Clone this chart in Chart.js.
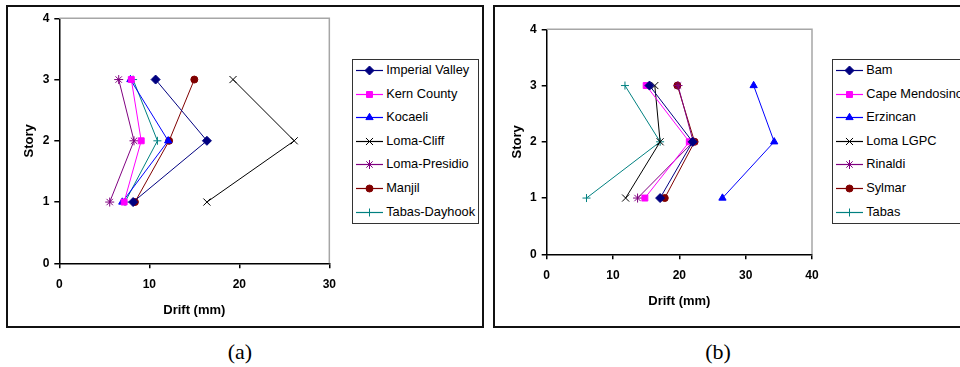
<!DOCTYPE html>
<html>
<head>
<meta charset="utf-8">
<script src="https://cdn.jsdelivr.net/npm/chart.js@4.4.1/dist/chart.umd.min.js"></script>
<style>
  body { margin: 0; width: 960px; height: 367px; background: #fff; position: relative; overflow: hidden;
         font-family: "Liberation Sans", Arial, sans-serif; }
  .panel { position: absolute; box-sizing: border-box; border: 2px solid #111; }
  .plot { position: absolute; }
  .legend { position: absolute; box-sizing: border-box; border: 1.5px solid #333; background: #fff; }
  .legend .row { position: absolute; left: 0; height: 20px; line-height: 20px; font-size: 12.8px; white-space: nowrap; color: #000; }
  .legend canvas { position: absolute; left: 3.5px; top: 0; }
  .legend span { position: absolute; left: 33.5px; top: 0; }
  .caption { position: absolute; width: 60px; margin-left: -30px; text-align: center;
             font-family: "Liberation Serif", "Times New Roman", serif; font-size: 22px; line-height: 22px; }
</style>
</head>
<body>
<div class="panel" style="left:6px; top:5px; width:478px; height:323px;"></div>
<div class="panel" style="left:493px; top:5px; width:490px; height:323px;"></div>

<canvas id="chartA" class="plot" width="345" height="330" style="left:0px; top:0px;"></canvas>
<canvas id="chartB" class="plot" width="350" height="330" style="left:480px; top:0px;"></canvas>

<div id="legendA" class="legend" style="left:351.7px; top:59.3px; width:127.5px; height:165px;"></div>
<div id="legendB" class="legend" style="left:831.7px; top:59.3px; width:160px; height:165px;"></div>

<div class="caption" style="left:240px; top:341px;">(a)</div>
<div class="caption" style="left:718px; top:341px;">(b)</div>

<script>
// ------------------------------------
// Data (drift in mm at stories 1, 2, 3)
// ------------------------------------
const stories = [1, 2, 3];
const storyTicks = [0, 1, 2, 3, 4];
const driftTicksA = [0, 10, 20, 30];
const driftTicksB = [0, 10, 20, 30, 40];

const namesA = ['Imperial Valley', 'Kern County', 'Kocaeli', 'Loma-Cliff', 'Loma-Presidio', 'Manjil', 'Tabas-Dayhook'];
const imperialValley = [8.2, 16.4, 10.7];
const kernCounty = [7.2, 9.1, 8.0];
const kocaeli = [7.0, 12.1, 7.9];
const lomaCliff = [16.4, 26.1, 19.3];
const lomaPresidio = [5.6, 8.3, 6.6];
const manjil = [8.4, 12.2, 15.0];
const tabasDayhook = [7.3, 10.9, 8.2];

const namesB = ['Bam', 'Cape Mendosino', 'Erzincan', 'Loma LGPC', 'Rinaldi', 'Sylmar', 'Tabas'];
const bam = [17.1, 22.0, 15.5];
const capeMendosino = [14.8, 21.5, 15.0];
const erzincan = [26.5, 34.3, 31.2];
const lomaLGPC = [11.9, 17.1, 16.3];
const rinaldi = [13.7, 22.1, 19.8];
const sylmar = [17.8, 22.3, 19.7];
const tabas = [6.0, 17.1, 11.8];

// same marker/colour order in both panels
const seriesStyles = [
    { color: '#000080', point: 'rectRot', radius: 4.5 },
    { color: '#ff00ff', point: 'rect', radius: 4.2 },
    { color: '#0000ff', point: 'triangle', radius: 4.2 },
    { color: '#000000', point: 'crossRot', radius: 5 },
    { color: '#800080', point: 'star', radius: 4.5 },
    { color: '#800000', point: 'circle', radius: 3.5 },
    { color: '#008080', point: 'cross', radius: 4 }
];

const fontFamily = '"Liberation Sans", Arial, sans-serif';
const yAxisW = 49.3;
const xAxisH = 55;

// gray frame on top/right of plot area like Excel
const plotFrame = {
    id: 'plotFrame',
    beforeDatasetsDraw(chart) {
        const { ctx, chartArea: a } = chart;
        ctx.save();
        ctx.strokeStyle = '#a6a6a6';
        ctx.lineWidth = 1.5;
        ctx.beginPath();
        ctx.moveTo(a.left, a.top);
        ctx.lineTo(a.right, a.top);
        ctx.lineTo(a.right, a.bottom);
        ctx.stroke();
        ctx.restore();
    }
};

function buildChart(canvasId, names, series, xTicks, area) {
    const canvas = document.getElementById(canvasId);
    const W = canvas.width, H = canvas.height;

    const datasets = series.map((vals, i) => {
        const st = seriesStyles[i];
        return {
            label: names[i],
            data: vals.map((v, k) => ({ x: v, y: stories[k] })),
            showLine: true,
            borderColor: st.color,
            backgroundColor: st.color,
            borderWidth: 1,
            pointStyle: st.point,
            pointRadius: st.radius,
            pointBorderWidth: 1,
            pointBackgroundColor: st.color,
            pointBorderColor: st.color
        };
    });

    return new Chart(canvas, {
        type: 'scatter',
        data: { datasets },
        plugins: [plotFrame],
        options: {
            responsive: false,
            animation: false,
            events: [],
            layout: {
                padding: {
                    left: area.left - yAxisW,
                    top: area.top,
                    right: W - area.right,
                    bottom: H - area.bottom - xAxisH
                }
            },
            plugins: { legend: { display: false }, tooltip: { enabled: false } },
            scales: {
                x: {
                    type: 'linear',
                    min: xTicks[0],
                    max: xTicks[xTicks.length - 1],
                    afterBuildTicks: s => { s.ticks = xTicks.map(v => ({ value: v })); },
                    afterFit: s => { s.height = xAxisH; },
                    border: { color: '#000', width: 1.5 },
                    grid: { drawOnChartArea: false, color: '#000', lineWidth: 1.5, tickLength: 5 },
                    ticks: { padding: 9, color: '#000', maxRotation: 0, font: { family: fontFamily, size: 12, weight: 'bold' } },
                    title: { display: true, text: 'Drift (mm)', color: '#000', padding: { top: 0, bottom: 0.5 },
                             font: { family: fontFamily, size: 13, weight: 'bold' } }
                },
                y: {
                    type: 'linear',
                    min: storyTicks[0],
                    max: storyTicks[storyTicks.length - 1],
                    afterBuildTicks: s => { s.ticks = storyTicks.map(v => ({ value: v })); },
                    afterFit: s => { s.width = yAxisW; },
                    border: { color: '#000', width: 1.5 },
                    grid: { drawOnChartArea: false, color: '#000', lineWidth: 1.5, tickLength: 5 },
                    ticks: { padding: 5, color: '#000', font: { family: fontFamily, size: 12, weight: 'bold' } },
                    title: { display: true, text: 'Story', color: '#000', padding: { top: 12, bottom: 0 },
                             font: { family: fontFamily, size: 13, weight: 'bold' } }
                }
            }
        }
    });
}

// ------------------------------------
// HTML legend (line + marker, like Excel)
// ------------------------------------
function buildLegend(boxId, names) {
    const box = document.getElementById(boxId);
    names.forEach((name, i) => {
        const st = seriesStyles[i];
        const row = document.createElement('div');
        row.className = 'row';
        row.style.top = (23.55 * i) + 'px';

        const c = document.createElement('canvas');
        c.width = 27; c.height = 20;
        const ctx = c.getContext('2d');
        ctx.strokeStyle = st.color;
        ctx.fillStyle = st.color;
        ctx.lineWidth = 1.2;
        ctx.beginPath();
        ctx.moveTo(0, 10.5);
        ctx.lineTo(27, 10.5);
        ctx.stroke();
        ctx.lineWidth = 1;
        if (Chart.helpers && Chart.helpers.drawPoint) {
            Chart.helpers.drawPoint(ctx, { pointStyle: st.point, radius: st.radius, rotation: 0, borderWidth: 1 }, 13.5, 10.5);
        } else {
            ctx.beginPath();
            ctx.arc(13.5, 10.5, 3.5, 0, Math.PI * 2);
            ctx.fill();
        }

        const label = document.createElement('span');
        label.textContent = name;
        row.appendChild(c);
        row.appendChild(label);
        box.appendChild(row);
    });
}

window.onload = function() {
    buildChart('chartA', namesA,
        [imperialValley, kernCounty, kocaeli, lomaCliff, lomaPresidio, manjil, tabasDayhook],
        driftTicksA, { left: 59.3, top: 18.3, right: 331.7, bottom: 263.3 });
    buildChart('chartB', namesB,
        [bam, capeMendosino, erzincan, lomaLGPC, rinaldi, sylmar, tabas],
        driftTicksB, { left: 66.7, top: 29.3, right: 332, bottom: 254.3 });
    buildLegend('legendA', namesA);
    buildLegend('legendB', namesB);
};
</script>
</body>
</html>
